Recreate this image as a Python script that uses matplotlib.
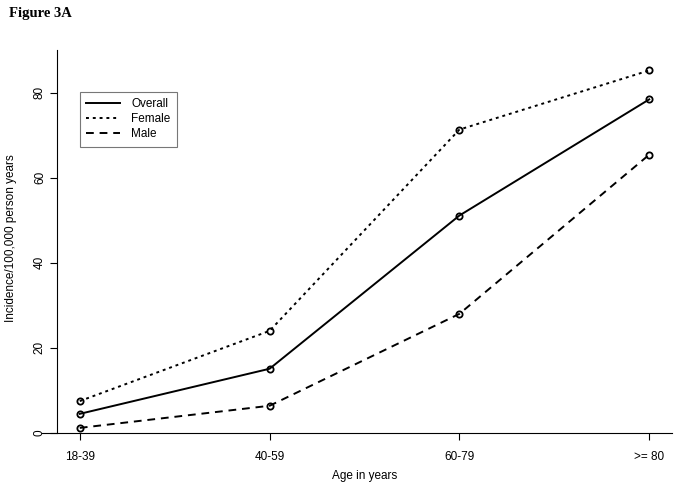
import matplotlib
matplotlib.use('Agg')
import matplotlib.pyplot as plt

age_groups = ['18-39', '40-59', '60-79', '>= 80']
overall = [4.5, 15.1, 51.1, 78.4]
female = [7.5, 24.0, 71.3, 85.2]
male = [1.2, 6.4, 28.0, 65.4]

plt.rcParams['font.family'] = ['Liberation Sans', 'DejaVu Sans']

fig = plt.figure(figsize=(6.79, 4.9), dpi=100)
ax = fig.add_axes([57/679, 1 - 433/490, (672-57)/679, (433-50)/490])

x = range(1, len(age_groups) + 1)
mk = dict(marker='o', markersize=4.5, markerfacecolor='none', markeredgewidth=1.3, color='black', lw=1.4)
ax.plot(x, overall, linestyle='-', label='Overall', **mk)
ax.plot(x, female, linestyle=(0, (1.5, 2)), label='Female', **mk)
ax.plot(x, male, linestyle=(0, (4, 3)), label='Male', **mk)

ax.set_xlim(0.88, 4.12)
ax.set_ylim(0, 90)
ax.set_xticks(list(x))
ax.set_xticklabels(age_groups)
ax.set_yticks([0, 20, 40, 60, 80])
ax.set_yticklabels(['0', '20', '40', '60', '80'], rotation=90, va='center')
ax.tick_params(labelsize=8.5, length=5, width=0.8)
ax.tick_params(axis='x', pad=8)
ax.tick_params(axis='y', pad=3)

ax.spines['top'].set_visible(False)
ax.spines['right'].set_visible(False)
ax.spines['left'].set_linewidth(0.8)
ax.spines['bottom'].set_linewidth(0.8)
ax.spines['bottom'].set_bounds(0.8, 4.12)

ax.set_xlabel('Age in years', fontsize=8.5, labelpad=5)
ax.set_ylabel('Incidence/100,000 person years', fontsize=8.5)
ax.yaxis.label.set_va('center')
ax.yaxis.set_label_coords((11 - 57) / 615, (433 - 238) / 383)

leg = ax.legend(loc='upper left', bbox_to_anchor=((80-57)/615, (433-92)/383), fontsize=8.5,
                borderaxespad=0, frameon=True, fancybox=False, handlelength=2.8,
                borderpad=0.55, labelspacing=0.25, handletextpad=1.0)
leg.get_frame().set_edgecolor('#555555')
leg.get_frame().set_linewidth(0.8)
for h in leg.legend_handles:
    h.set_marker('')

fig.text(9/679, 1 - 13/490, 'Figure 3A', fontsize=10.5, fontweight='bold',
         family='Liberation Serif', va='center')

fig.savefig('out.png', dpi=100)
